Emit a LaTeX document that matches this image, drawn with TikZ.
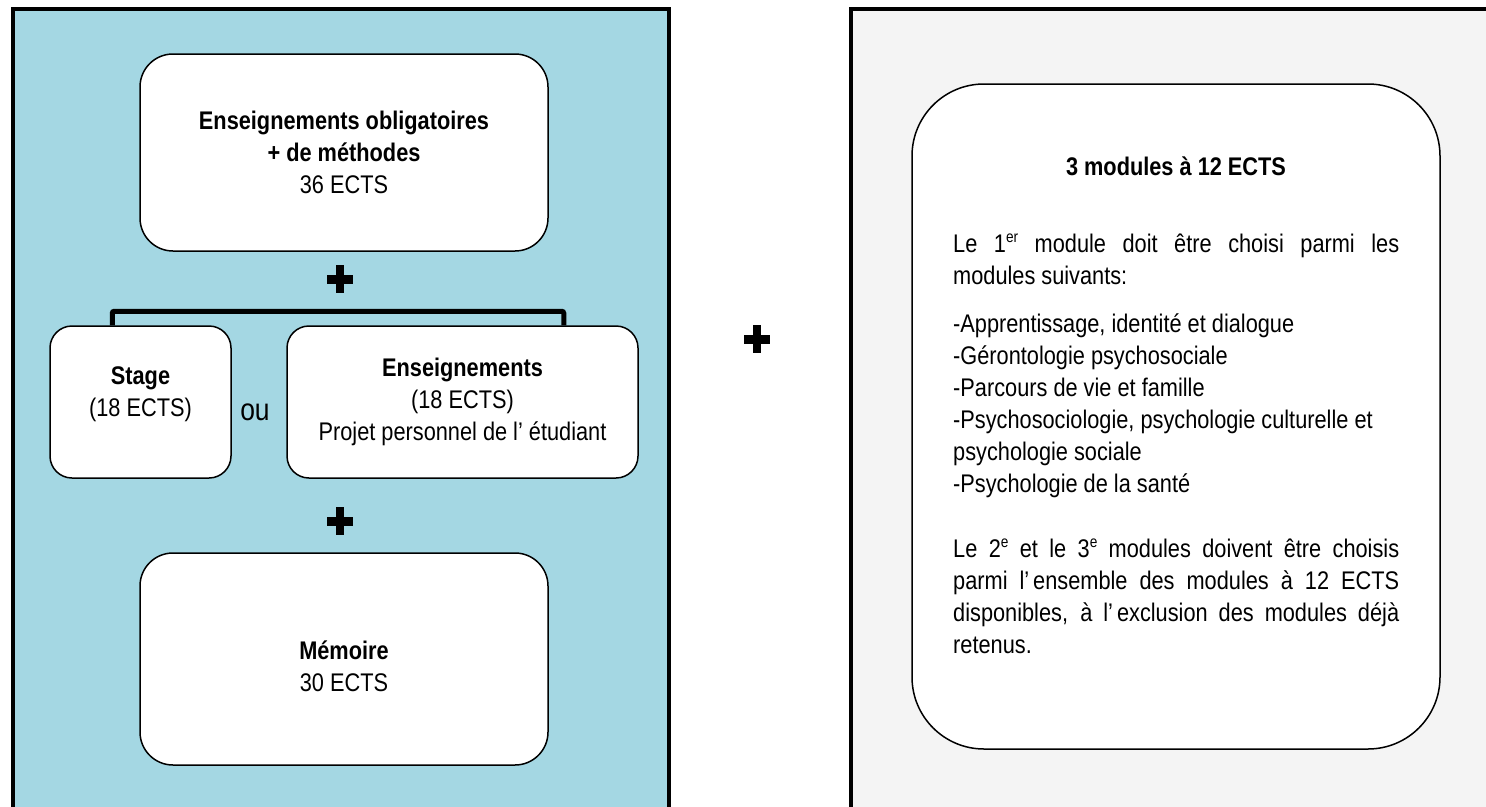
\documentclass[tikz,border=0pt]{standalone}
\usepackage{fontspec}
\setmainfont[FakeStretch=0.853]{Liberation Sans}
\definecolor{panelblue}{RGB}{164,215,227}
\definecolor{panelgrey}{RGB}{244,244,244}
\newcommand\supr[1]{\raisebox{10pt}{\fontsize{16}{16}\selectfont #1}}
\begin{document}
\begin{tikzpicture}[x=1pt,y=-1pt,font=\fontsize{25.5}{32}\selectfont,
    roundbox/.style={draw,fill=white,line width=1.5pt,rounded corners=#1,inner sep=0pt,align=center},
    plussign/.style={minimum width=26pt,minimum height=28pt,inner sep=0pt,
        path picture={\fill (path picture bounding box.west) ++(0,-4.5) rectangle ++(26,9);
            \fill (path picture bounding box.north) ++(-4,0) rectangle ++(8,28);}},
    bracket/.style={line width=5pt,rounded corners=2pt}]
    \useasboundingbox (0,0) rectangle (1486,806);
    \clip (0,0) rectangle (1486,806);
    \draw[line width=4pt,fill=panelblue] (13,9) rectangle (669,840);
    \draw[line width=4pt,fill=panelgrey] (851,9) rectangle (1530,840);

    \node[roundbox=33pt,minimum width=408pt,minimum height=197pt] (oblig) at (344,152.5)
        {\textbf{Enseignements obligatoires}\\\textbf{+ de méthodes}\\36 ECTS};
    \node[plussign] (plusa) at (340,279) {};
    \node[roundbox=22pt,minimum width=181pt,minimum height=152pt] (stage) at (140.5,402) {};
    \node[align=center] (stagetext) at (140.5,394) {\textbf{Stage}\\(18 ECTS)};
    \node[font=\fontsize{31}{36}\selectfont] (ou) at (255,412) {ou};
    \node[roundbox=22pt,minimum width=351pt,minimum height=152pt] (ens) at (462.5,402)
        {\textbf{Enseignements}\\(18 ECTS)\\Projet personnel de l’ étudiant};
    \draw[bracket] ([xshift=63pt]stage.north west) -- ++(0,-14) -| ([xshift=-75pt]ens.north east);
    \node[plussign] (plusb) at (340,521) {};
    \node[roundbox=33pt,minimum width=408pt,minimum height=212pt] (memoire) at (344,659) {};
    \node[align=center] (memoiretext) at (344,666) {\textbf{Mémoire}\\30 ECTS};

    \node[plussign] (plusc) at (757,339) {};

    \node[roundbox=72pt,minimum width=528pt,minimum height=665pt] (modules) at (1176,416.5) {};
    \node[font=\fontsize{25.5}{32}\selectfont\bfseries] (modtitle) at (1176,166) {3 modules à 12 ECTS};
    \node[anchor=base west,text width=446pt,align=justify,inner sep=0pt] (modtext) at (953,252)
        {Le 1\supr{er} module doit être choisi parmi les\linebreak modules suivants:\par
        \vspace{16pt}
        -Apprentissage, identité et dialogue\\
        -Gérontologie psychosociale\\
        -Parcours de vie et famille\\
        -Psychosociologie, psychologie culturelle et\\
        psychologie sociale\\
        -Psychologie de la santé\par
        \vspace{33pt}
        Le 2\supr{e} et le 3\supr{e} modules doivent être choisis\linebreak
        parmi l’\kern4pt ensemble des modules à 12 ECTS\linebreak
        disponibles, à l’\kern4pt exclusion des modules déjà\linebreak
        retenus.};
\end{tikzpicture}
\end{document}
